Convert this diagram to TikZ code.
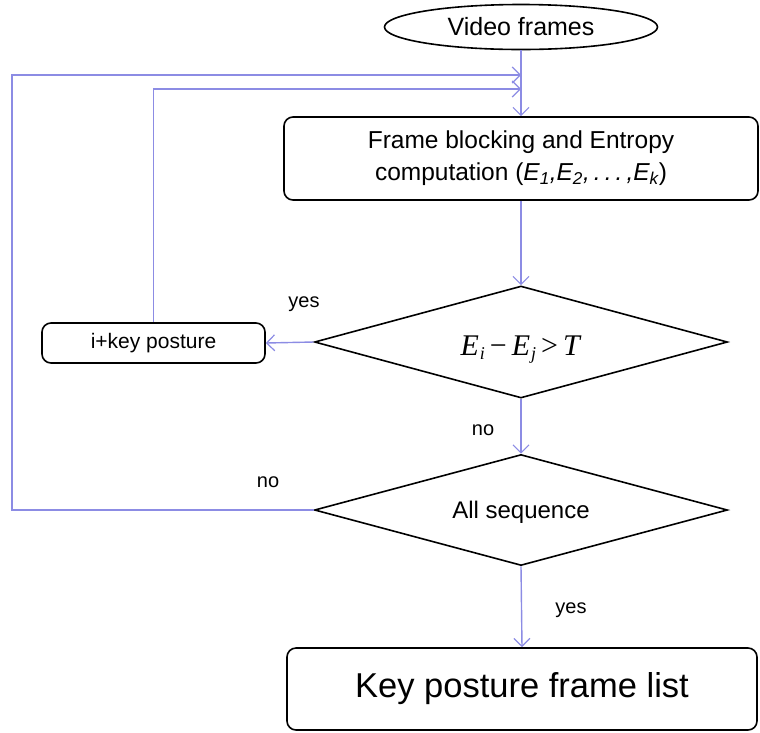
\documentclass[tikz,border=0pt]{standalone}
\usepackage{fontspec}
\setmainfont{Liberation Sans}
\newfontfamily\tms{Liberation Serif}
\usetikzlibrary{shapes.geometric,arrows.meta}
\definecolor{flow}{RGB}{140,140,228}
\begin{document}
\begin{tikzpicture}[x=1pt,y=-1pt,
  boxnode/.style={draw=black,line width=1.6pt,rounded corners=9pt,inner sep=0pt},
  dec/.style={draw=black,line width=1.6pt,shape=diamond,aspect=3.7,inner sep=0pt},
  conn/.style={draw=flow,line width=1.4pt,-{Straight Barb[length=8pt,width=16pt,line width=1.2pt]}},
  lbl/.style={font=\fontsize{20}{24}\selectfont,inner sep=0pt}]
\useasboundingbox (0,0) rectangle (760,732);
\node[draw, ellipse, line width=1.6pt, minimum width=273pt, minimum height=45pt, inner sep=0pt,
  font=\fontsize{25}{28}\selectfont] (vf) at (521,27) {Video frames};
\node[boxnode, minimum width=474pt, minimum height=83pt, align=center,
  font=\fontsize{24.5}{32}\selectfont] (fb) at (521,158.5)
  {Frame blocking and Entropy\\computation ({\itshape E\textsubscript{1},E\textsubscript{2},\,.\,.\,.\,,E\textsubscript{k}})};
\node[dec, minimum width=413pt, minimum height=112pt] (d1) at (521,342)
  {\smash{\raisebox{-13pt}{\fontsize{30}{34}\selectfont\tms\textit{E}\kern1pt\raisebox{-4pt}{\fontsize{18}{20}\selectfont\textit{i}}\,−\,\textit{E}\kern1pt\raisebox{-4pt}{\fontsize{18}{20}\selectfont\textit{j}}\,>\,\textit{T}}}};
\node[boxnode, minimum width=223pt, minimum height=40pt, font=\fontsize{21}{25}\selectfont] (ik) at (153.5,343) {i+key posture};
\node[dec, minimum width=413pt, minimum height=111pt, font=\fontsize{24}{27}\selectfont] (d2) at (521,510) {\smash{\raisebox{-8.5pt}{All sequence}}};
\node[boxnode, minimum width=470pt, minimum height=82pt, font=\fontsize{34.5}{40}\selectfont] (kp) at (522,689) {Key posture frame list};
\coordinate (j1) at (521,75);
\coordinate (j2) at (521,89);
\coordinate (lx) at (12,0);
\draw[conn] (vf.south) -- (fb.north);
\draw[conn] (fb.south) -- (d1.north);
\draw[conn] (d1.west) -- (ik.east);
\draw[conn] (d1.south) -- (d2.north);
\draw[conn] (d2.south) -- (kp.north);
\draw[conn] (ik.north) |- (j2);
\draw[conn] (d2.west) -- (d2.west -| lx) |- (j1);
\node[lbl] (y1) at (304,304) {yes};
\node[lbl] (n1) at (483,430) {no};
\node[lbl] (n2) at (268,482) {no};
\node[lbl] (y2) at (571,610) {yes};
\end{tikzpicture}
\end{document}
